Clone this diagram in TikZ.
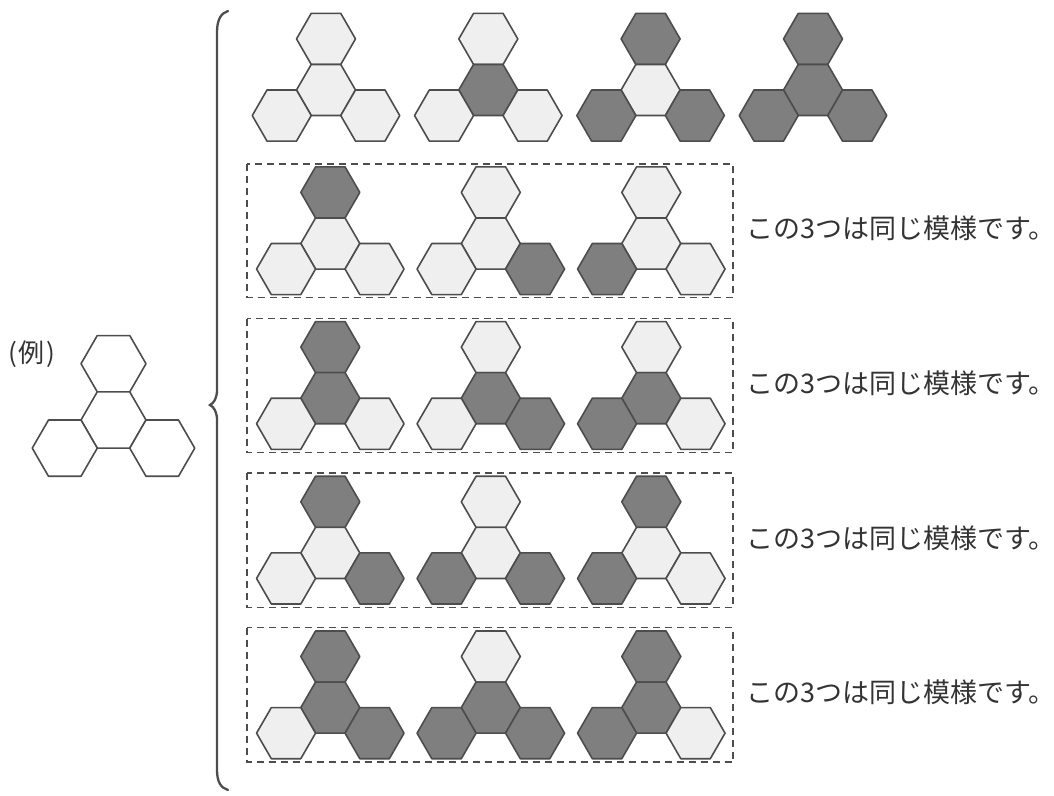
\documentclass[tikz,border=0pt]{standalone}
\usepackage{fontspec}
\newfontfamily\jp{Noto Sans CJK JP}
\definecolor{lt}{HTML}{EFEFEF}
\definecolor{dk}{HTML}{7F7F7F}
\definecolor{ln}{HTML}{4D4D4D}
\definecolor{tx}{HTML}{333333}
\tikzset{
  hexline/.style={draw=ln, line width=1.6pt, line join=round},
  dashbox/.style={draw=ln, line width=1.3pt, dash pattern=on 7pt off 5pt},
  bracel/.style={draw=ln, line width=2.3pt, line cap=round},
  lbl/.style={font=\jp\fontsize{27}{27}\selectfont, text=tx, inner sep=0pt},
}
\newcommand\hexat[4]{\filldraw[hexline, fill=#4] (#1,#2) +(0:#3) -- +(60:#3) -- +(120:#3) -- +(180:#3) -- +(240:#3) -- +(300:#3) -- cycle;}
\newcommand\trio[7]{%
  \hexat{#1}{#2-1.7320508*#3}{#3}{#4}%
  \hexat{#1}{#2}{#3}{#5}%
  \hexat{#1-1.5*#3}{#2+0.8660254*#3}{#3}{#6}%
  \hexat{#1+1.5*#3}{#2+0.8660254*#3}{#3}{#7}%
}
\begin{document}
\begin{tikzpicture}[x=1pt, y=-1pt]
\useasboundingbox (0,0) rectangle (1054,795);
% example
\node[lbl, font=\jp\fontsize{26}{26}\selectfont, anchor=west] (ex) at (8,354) {(\kern2pt 例\kern2pt)};
\trio{113.5}{420}{32.5}{white}{white}{white}{white}
% brace
\draw[bracel] (228,11) .. controls (221,13) and (217,20) .. (217,32) -- (217,390)
  .. controls (217,398) and (214,403) .. (210,405)
  .. controls (214,407) and (217,412) .. (217,420) -- (217,770)
  .. controls (217,782) and (221,788) .. (228,790);
% top row
\trio{326}{90}{29.5}{lt}{lt}{lt}{lt}
\trio{488.3}{90}{29.5}{lt}{dk}{lt}{lt}
\trio{650.6}{90}{29.5}{dk}{lt}{dk}{dk}
\trio{813}{90}{29.5}{dk}{dk}{dk}{dk}
% row 2
\draw[dashbox] (247,164) rectangle (733,297.5);
\trio{330.3}{243.5}{29.5}{dk}{lt}{lt}{lt}
\trio{490.8}{243.5}{29.5}{lt}{lt}{lt}{dk}
\trio{651.3}{243.5}{29.5}{lt}{lt}{dk}{lt}
\node[lbl, anchor=west] (t2) at (746,228) {この3つは同じ模様です。};
% row 3
\draw[dashbox] (247,318.5) rectangle (733,452.5);
\trio{330.3}{398.2}{29.5}{dk}{dk}{lt}{lt}
\trio{490.8}{398.2}{29.5}{lt}{dk}{lt}{dk}
\trio{651.3}{398.2}{29.5}{lt}{dk}{dk}{lt}
\node[lbl, anchor=west] (t3) at (746,383) {この3つは同じ模様です。};
% row 4
\draw[dashbox] (247,473) rectangle (733,607.5);
\trio{330.3}{552.9}{29.5}{dk}{lt}{lt}{dk}
\trio{490.8}{552.9}{29.5}{lt}{lt}{dk}{dk}
\trio{651.3}{552.9}{29.5}{dk}{lt}{dk}{lt}
\node[lbl, anchor=west] (t4) at (746,538) {この3つは同じ模様です。};
% row 5
\draw[dashbox] (247,627.5) rectangle (733,762);
\trio{330.3}{707.6}{29.5}{dk}{dk}{lt}{dk}
\trio{490.8}{707.6}{29.5}{lt}{dk}{dk}{dk}
\trio{651.3}{707.6}{29.5}{dk}{dk}{dk}{lt}
\node[lbl, anchor=west] (t5) at (746,692) {この3つは同じ模様です。};
\end{tikzpicture}
\end{document}
